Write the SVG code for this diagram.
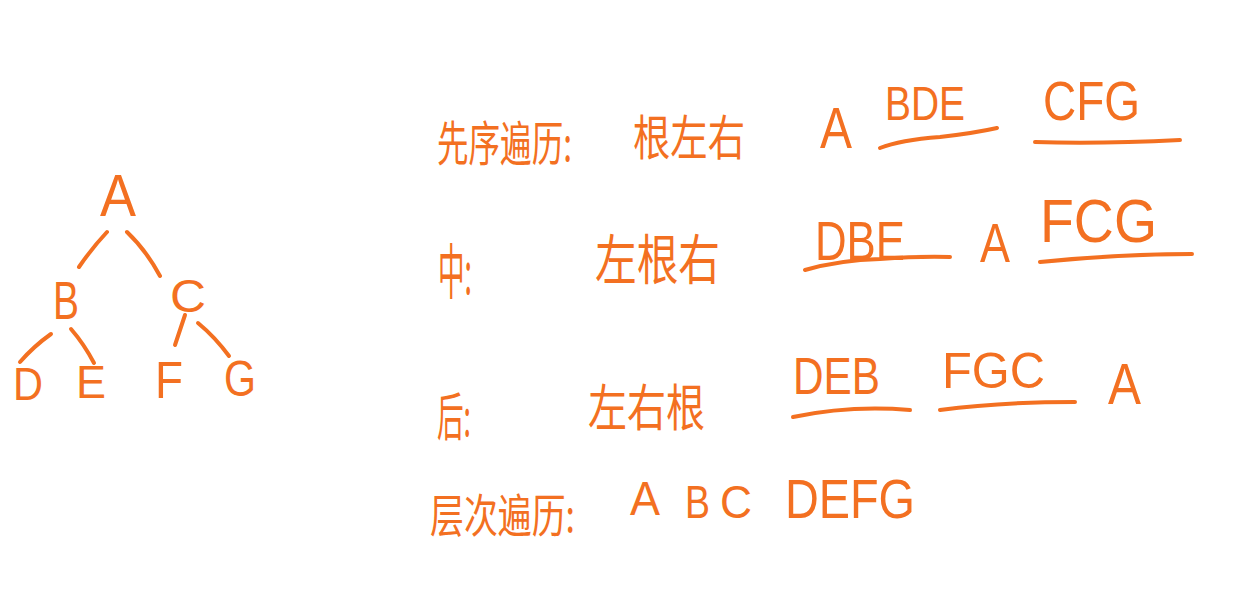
<svg xmlns="http://www.w3.org/2000/svg" width="1247" height="600" viewBox="0 0 1247 600">
<style>
.l{font-family:"Liberation Sans","DejaVu Sans",sans-serif;fill:#F37021}
.c{font-family:"Noto Sans CJK SC","Liberation Sans",sans-serif;fill:#F37021}
.n{font-family:"Liberation Sans","DejaVu Sans",sans-serif;fill:#F37021;text-anchor:middle}
.s{fill:none;stroke:#F37021;stroke-width:4;stroke-linecap:round}
</style>
<rect width="1247" height="600" fill="#ffffff"/>
<g id="edges">
<path class="s" d="M107 232 Q92 248 79 267"/>
<path class="s" d="M127 232 Q146 250 160 276"/>
<path class="s" d="M51 334 Q34 346 20 362"/>
<path class="s" d="M71 329 Q84 344 94 363"/>
<path class="s" d="M185 315 L175 345"/>
<path class="s" d="M198 323 Q215 337 229 356"/>
</g>
<g id="node-A"><text class="n" x="118" y="216" font-size="60" textLength="36" lengthAdjust="spacingAndGlyphs">A</text></g>
<g id="node-B"><text class="n" x="66" y="319" font-size="54" textLength="26" lengthAdjust="spacingAndGlyphs">B</text></g>
<g id="node-C"><text class="n" x="188" y="312" font-size="46" textLength="36" lengthAdjust="spacingAndGlyphs">C</text></g>
<g id="node-D"><text class="n" x="28" y="400" font-size="46" textLength="30" lengthAdjust="spacingAndGlyphs">D</text></g>
<g id="node-E"><text class="n" x="91" y="398" font-size="46" textLength="30" lengthAdjust="spacingAndGlyphs">E</text></g>
<g id="node-F"><text class="n" x="169" y="398" font-size="52" textLength="28" lengthAdjust="spacingAndGlyphs">F</text></g>
<g id="node-G"><text class="n" x="240" y="396" font-size="50" textLength="32" lengthAdjust="spacingAndGlyphs">G</text></g>

<g id="preorder">
<text class="c" x="437" y="161" font-size="48" textLength="135" lengthAdjust="spacingAndGlyphs">先序遍历:</text>
<text class="c" x="633" y="155" font-size="48" textLength="112" lengthAdjust="spacingAndGlyphs">根左右</text>
<text class="l" x="820" y="148" font-size="58" textLength="32" lengthAdjust="spacingAndGlyphs">A</text>
<text class="l" x="885" y="120" font-size="48" textLength="80" lengthAdjust="spacingAndGlyphs">BDE</text>
<path class="s" d="M880 148 Q900 140 940 137 Q975 133 997 128"/>
<text class="l" x="1043" y="120" font-size="56" textLength="97" lengthAdjust="spacingAndGlyphs">CFG</text>
<path class="s" d="M1035 142 Q1100 144 1180 140"/>
</g>
<g id="inorder">
<text class="c" x="438" y="294" font-size="60" textLength="34" lengthAdjust="spacingAndGlyphs">中:</text>
<text class="c" x="595" y="280" font-size="54" textLength="125" lengthAdjust="spacingAndGlyphs">左根右</text>
<text class="l" x="815" y="260" font-size="56" textLength="90" lengthAdjust="spacingAndGlyphs">DBE</text>
<path class="s" d="M805 270 Q840 260 880 259 Q920 256 950 257"/>
<text class="l" x="980" y="262" font-size="56" textLength="30" lengthAdjust="spacingAndGlyphs">A</text>
<text class="l" x="1040" y="242" font-size="62" textLength="117" lengthAdjust="spacingAndGlyphs">FCG</text>
<path class="s" d="M1040 262 Q1120 254 1192 254"/>
</g>
<g id="postorder">
<text class="c" x="437" y="436" font-size="52" textLength="34" lengthAdjust="spacingAndGlyphs">后:</text>
<text class="c" x="588" y="426" font-size="50" textLength="117" lengthAdjust="spacingAndGlyphs">左右根</text>
<text class="l" x="793" y="394" font-size="52" textLength="87" lengthAdjust="spacingAndGlyphs">DEB</text>
<path class="s" d="M793 417 Q850 405 910 410"/>
<text class="l" x="942" y="388" font-size="50" textLength="103" lengthAdjust="spacingAndGlyphs">FGC</text>
<path class="s" d="M940 410 Q1000 402 1075 402"/>
<text class="l" x="1108" y="404" font-size="58" textLength="33" lengthAdjust="spacingAndGlyphs">A</text>
</g>
<g id="levelorder">
<text class="c" x="430" y="532" font-size="46" textLength="145" lengthAdjust="spacingAndGlyphs">层次遍历:</text>
<text class="l" x="630" y="515" font-size="48" textLength="30" lengthAdjust="spacingAndGlyphs">A</text>
<text class="l" x="685" y="518" font-size="46" textLength="25" lengthAdjust="spacingAndGlyphs">B</text>
<text class="l" x="720" y="518" font-size="46" textLength="32" lengthAdjust="spacingAndGlyphs">C</text>
<text class="l" x="785" y="518" font-size="56" textLength="130" lengthAdjust="spacingAndGlyphs">DEFG</text>
</g>
</svg>
